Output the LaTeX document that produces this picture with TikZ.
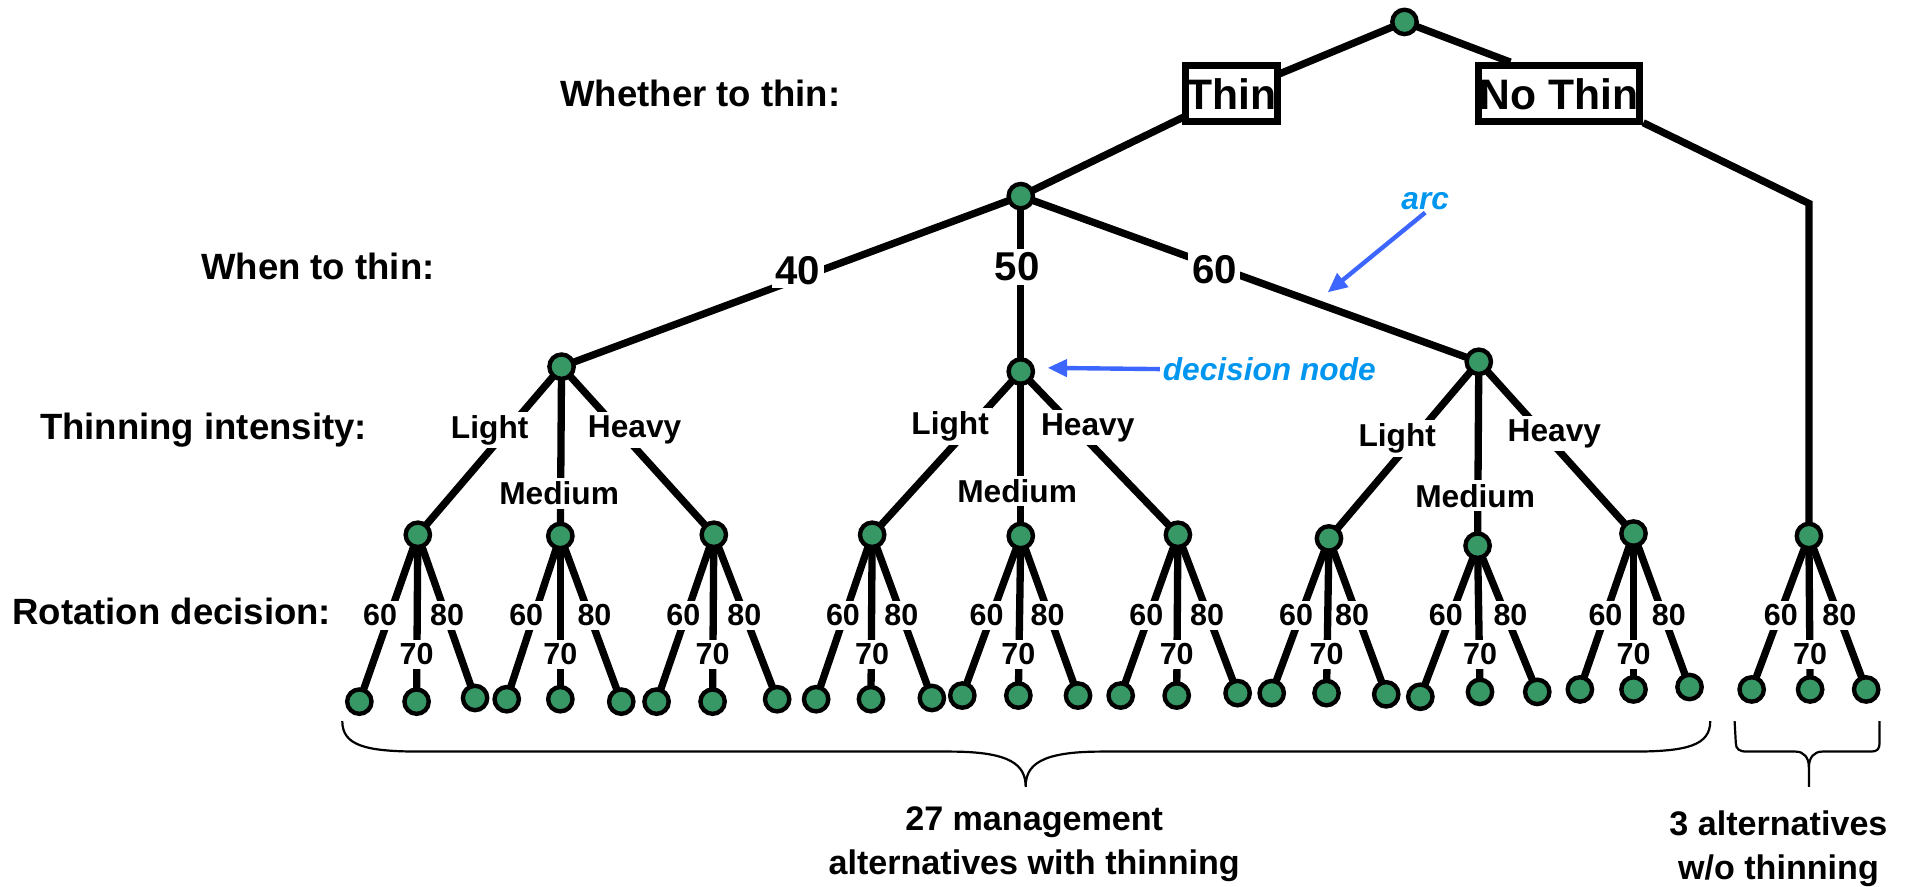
\documentclass[tikz,border=0pt]{standalone}
\usepackage{fontspec}
\setmainfont{Liberation Sans}
\usetikzlibrary{arrows.meta}
\pgfdeclarelayer{bg}
\pgfsetlayers{bg,main}
\definecolor{dgreen}{RGB}{55,152,102}
\definecolor{annot}{RGB}{0,150,240}
\definecolor{arrowblue}{RGB}{61,102,255}
\tikzset{
 dn/.style={circle,draw=black,fill=dgreen,line width=1.8pt,minimum size=10pt,inner sep=0pt},
 edge/.style={line width=3pt,black},
 choice/.style={draw=black,fill=white,line width=3pt,minimum height=23pt,inner sep=0pt,font=\fontsize{17.5}{20}\selectfont\bfseries},
 lab/.style={fill=white,inner sep=1.5pt,font=\fontsize{12.5}{14}\selectfont\bfseries},
 ilab/.style={fill=white,inner sep=1.5pt,font=\fontsize{13}{15}\selectfont\bfseries},
 tlab/.style={fill=white,inner sep=1.5pt,font=\fontsize{16.5}{19}\selectfont\bfseries},
 levellab/.style={font=\fontsize{15}{18}\selectfont\bfseries},
 note/.style={text=annot,inner sep=1pt,font=\fontsize{13}{15}\selectfont\bfseries\itshape},
 notearrow/.style={arrowblue,line width=1.8pt,-{Triangle[length=8pt,width=7pt]}},
 bracepath/.style={line width=0.9pt,black},
 summary/.style={align=center,font=\fontsize{14}{18}\selectfont\bfseries},
}
\begin{document}
\begin{tikzpicture}[x=0.5pt,y=-0.5pt]
\useasboundingbox (0,0) rectangle (1568,728);

% level captions
\node[levellab] (capA) at (575,77) {Whether to thin:};
\node[levellab] (capB) at (261,219) {When to thin:};
\node[levellab] (capC) at (167,353) {Thinning intensity:};
\node[levellab] (capD) at (141,502) {Rotation decision:};

% top
\node[dn] (root) at (1153,18) {};
\node[choice,minimum width=38pt] (thin) at (1011,77) {Thin};
\node[choice,minimum width=66pt] (nothin) at (1280,77) {No Thin};
\node[dn] (L2) at (838,161) {};
\coordinate (bend) at (1485,167);

% level 3
\node[dn] (A) at (461,301) {};
\node[dn] (B) at (838,305) {};
\node[dn] (C) at (1214,297) {};

% level 4
\node[dn] (a1) at (343,439) {};
\node[dn] (a2) at (460,440) {};
\node[dn] (a3) at (586,439) {};
\node[dn] (b1) at (716,439) {};
\node[dn] (b2) at (838,440) {};
\node[dn] (b3) at (967,439) {};
\node[dn] (c1) at (1091,442) {};
\node[dn] (c2) at (1213,448) {};
\node[dn] (c3) at (1341,438) {};
\node[dn] (n1) at (1485,440) {};

\begin{pgfonlayer}{bg}
\draw[edge] (root.center) -- (thin.center);
\draw[edge] (root.center) -- (nothin.147);
\draw[edge] (thin.center) -- (L2.center);
\draw[edge] (nothin.341) -- (bend) -- (n1.center);
\foreach \t in {A,B,C} \draw[edge] (L2.center) -- (\t.center);
\foreach \t in {a1,a2,a3} \draw[edge] (A.center) -- (\t.center);
\foreach \t in {b1,b2,b3} \draw[edge] (B.center) -- (\t.center);
\foreach \t in {c1,c2,c3} \draw[edge] (C.center) -- (\t.center);
\end{pgfonlayer}

% leaves
\foreach \p/\ax/\ay/\bx/\by/\cx/\cy/\sx/\mx/\ex in {
 a1/295/576/342/576/390/573/312/342/367,
 a2/416/574/460/574/510/576/432/460/488,
 a3/539/576/585/576/638/574/561/585/611,
 b1/670/574/715/574/765/573/692/716/740,
 b2/790/571/836/571/885/571/810/836/860,
 b3/920/571/966/571/1016/569/941/966/991,
 c1/1044/569/1089/569/1138/570/1064/1089/1110,
 c2/1166/572/1215/568/1262/568/1187/1215/1240,
 c3/1297/566/1341/566/1387/564/1318/1341/1370,
 n1/1438/566/1486/566/1532/566/1462/1486/1510}{
 \node[dn] (\p x) at (\ax,\ay) {};
 \node[dn] (\p y) at (\bx,\by) {};
 \node[dn] (\p z) at (\cx,\cy) {};
 \begin{pgfonlayer}{bg}
 \draw[edge] (\p.center) -- (\p x.center);
 \draw[edge] (\p.center) -- (\p y.center);
 \draw[edge] (\p.center) -- (\p z.center);
 \end{pgfonlayer}
 \node[lab] (\p l60) at (\sx,505) {60};
 \node[lab] (\p l70) at (\mx,537) {70};
 \node[lab] (\p l80) at (\ex,505) {80};
}

% timing labels
\node[tlab] (t40) at (655,222) {40};
\node[tlab] (t50) at (835,219) {50};
\node[tlab] (t60) at (997,221) {60};

% intensity labels
\node[ilab] (lA) at (402,353) {Light};
\node[ilab] (mA) at (459,405) {Medium};
\node[ilab] (hA) at (521,353) {Heavy};
\node[ilab] (lB) at (780,350) {Light};
\node[ilab] (mB) at (835,403) {Medium};
\node[ilab] (hB) at (893,351) {Heavy};
\node[ilab] (lC) at (1147,360) {Light};
\node[ilab] (mC) at (1211,407) {Medium};
\node[ilab] (hC) at (1276,356) {Heavy};

% annotations
\node[note] (arcnote) at (1170,165) {arc};
\coordinate (arcpt) at (1090,240);
\draw[notearrow] (arcnote.south) -- (arcpt);
\node[note] (decnote) at (1042,303) {decision node};
\coordinate (decpt) at (860,302);
\draw[notearrow] (decnote.west) -- (decpt);

% braces
\draw[bracepath] (281,592) .. controls (281,612) and (300,617) .. (345,617)
  -- (780,617) .. controls (830,617) and (842,628) .. (842,646)
  .. controls (842,628) and (854,617) .. (904,617)
  -- (1340,617) .. controls (1385,617) and (1404,612) .. (1404,592);
\draw[bracepath] (1424,592) -- (1425,610) .. controls (1425,615) and (1428,617) .. (1434,617)
  -- (1474,617) .. controls (1481,617) and (1485,622) .. (1485,630) -- (1485,646);
\draw[bracepath] (1485,630) .. controls (1485,622) and (1489,617) .. (1496,617)
  -- (1536,617) .. controls (1541,617) and (1543,615) .. (1543,610) -- (1543,592);

\node[summary] (sum1) at (849,693) {27 management\\alternatives with thinning};
\node[summary] (sum2) at (1460,697) {3 alternatives\\w/o thinning};
\end{tikzpicture}
\end{document}
